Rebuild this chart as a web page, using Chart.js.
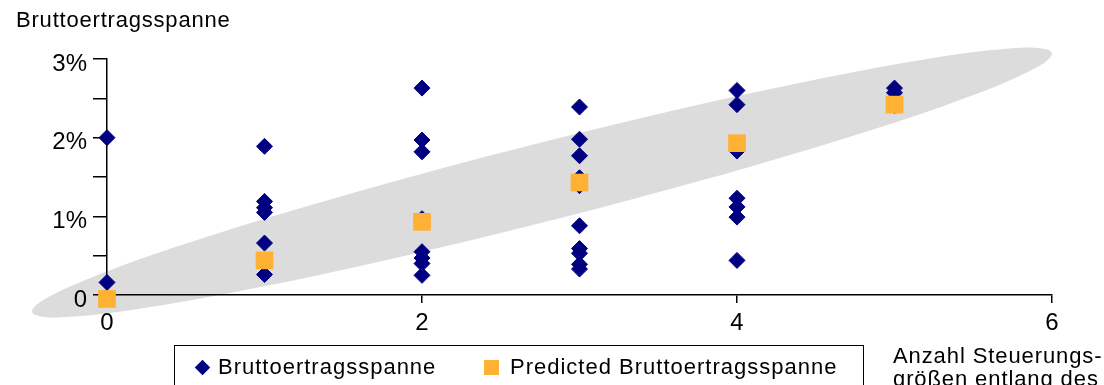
<!DOCTYPE html>
<html>
<head>
<meta charset="utf-8">
<script src="https://cdn.jsdelivr.net/npm/chart.js@4/dist/chart.umd.min.js"></script>
<style>
    body { margin: 0; background: #fff; font-family: "Liberation Sans", Arial, sans-serif; }
    #wrap { position: relative; width: 1104px; height: 385px; overflow: hidden; }
    #wrap canvas { position: absolute; left: 0; top: 0; }
    .txt { position: absolute; font-size: 22px; line-height: 20px; letter-spacing: 1px; color: #000; white-space: nowrap; }
    #legend { position: absolute; left: 174px; top: 345px; width: 690px; height: 60px;
              border: 1.5px solid #000; box-sizing: border-box; }
    .diamond { position: absolute; width: 11px; height: 11px; background: #000080; transform: rotate(45deg); }
    .square { position: absolute; width: 15px; height: 15px; background: #FFB134; }
</style>
</head>
<body>
<div id="wrap">
    <canvas id="scatterChart"></canvas>
    <div class="txt" style="left:16px; top:10px; letter-spacing:0.8px;">Bruttoertragsspanne</div>
    <div id="legend">
        <span class="diamond" style="left:22px; top:16px;"></span>
        <span class="txt" style="left:43px; top:11px;">Bruttoertragsspanne</span>
        <span class="square" style="left:309px; top:14px;"></span>
        <span class="txt" style="left:335px; top:11px;">Predicted Bruttoertragsspanne</span>
    </div>
    <div class="txt" style="left:893px; top:344px; line-height:23px; letter-spacing:0.9px;">Anzahl Steuerungs-<br>größen entlang des</div>
</div>

<script>
// ============================================
// DATA
// ============================================

// number of control variables (x categories)
var steps = [0, 1, 2, 3, 4, 5];

// observed gross margin in % per x value
var observed0 = [2.0, 0.16];
var observed1 = [1.89, 1.19, 1.11, 1.05, 0.66, 0.26];
var observed2 = [2.63, 1.97, 1.82, 0.97, 0.55, 0.47, 0.40, 0.25];
var observed3 = [2.39, 1.98, 1.77, 1.49, 1.39, 0.88, 0.59, 0.53, 0.39, 0.33];
var observed4 = [2.60, 2.42, 1.83, 1.23, 1.12, 0.99, 0.44];
var observed5 = [2.63, 2.57, 2.41];

// predicted gross margin in %
var predicted = [-0.05, 0.44, 0.93, 1.43, 1.93, 2.42];

// y ticks every half percent, labels only on whole percents
var yTicks = [0, 0.5, 1, 1.5, 2, 2.5, 3];
var xTicks = [0, 2, 4, 6];

// ============================================

document.addEventListener('DOMContentLoaded', function () {

    var observedGroups = [observed0, observed1, observed2, observed3, observed4, observed5];

    // flatten observed groups into scatter points
    var observedPoints = [];
    for (var i = 0; i < steps.length; i++) {
        for (var j = 0; j < observedGroups[i].length; j++) {
            observedPoints.push({x: steps[i], y: observedGroups[i][j]});
        }
    }

    var predictedPoints = [];
    for (var k = 0; k < steps.length; k++) {
        predictedPoints.push({x: steps[k], y: predicted[k]});
    }

    // grey confidence ellipse, tips given in data units, half width in px
    var ellipseTipA = {x: -0.476, y: -0.216};
    var ellipseTipB = {x: 6.0, y: 3.076};
    var ellipseHalfWidth = 39;

    // drawn before the scales so axis lines and labels sit on top of it
    var ellipsePlugin = {
        id: 'ellipseBackground',
        beforeDraw: function (chart) {
            var ctx = chart.ctx;
            var sx = chart.scales.x;
            var sy = chart.scales.y;
            var x1 = sx.getPixelForValue(ellipseTipA.x);
            var y1 = sy.getPixelForValue(ellipseTipA.y);
            var x2 = sx.getPixelForValue(ellipseTipB.x);
            var y2 = sy.getPixelForValue(ellipseTipB.y);
            var cx = (x1 + x2) / 2;
            var cy = (y1 + y2) / 2;
            var half = Math.sqrt((x2 - x1) * (x2 - x1) + (y2 - y1) * (y2 - y1)) / 2;
            var angle = Math.atan2(y2 - y1, x2 - x1);
            ctx.save();
            ctx.beginPath();
            ctx.ellipse(cx, cy, half, ellipseHalfWidth, angle, 0, Math.PI * 2);
            ctx.fillStyle = '#DCDCDC';
            ctx.fill();
            ctx.restore();
        }
    };

    var ctx = document.getElementById('scatterChart').getContext('2d');
    new Chart(ctx, {
        type: 'scatter',
        data: {
            datasets: [
                {
                    label: 'Predicted Bruttoertragsspanne',
                    data: predictedPoints,
                    pointStyle: 'rect',
                    pointRadius: 12.5,
                    pointHoverRadius: 12.5,
                    backgroundColor: '#FFB134',
                    borderColor: '#FFB134',
                    borderWidth: 0,
                    order: 0,
                    clip: false
                },
                {
                    label: 'Bruttoertragsspanne',
                    data: observedPoints,
                    pointStyle: 'rectRot',
                    pointRadius: 8,
                    pointHoverRadius: 8,
                    backgroundColor: '#000080',
                    borderColor: '#000080',
                    borderWidth: 1,
                    order: 1,
                    clip: false
                }
            ]
        },
        options: {
            responsive: true,
            maintainAspectRatio: false,
            animation: false,
            events: [],
            layout: {
                padding: {left: 0, top: 59, right: 52, bottom: 50}
            },
            plugins: {
                legend: {display: false},
                tooltip: {enabled: false}
            },
            scales: {
                x: {
                    type: 'linear',
                    min: 0,
                    max: 6,
                    afterFit: function (scale) { scale.height = 40; },
                    afterBuildTicks: function (scale) {
                        scale.ticks = xTicks.map(function (v) { return {value: v}; });
                    },
                    border: {display: true, color: '#000', width: 1.5},
                    grid: {
                        display: true,
                        drawOnChartArea: false,
                        drawTicks: true,
                        tickLength: 8,
                        color: '#000',
                        lineWidth: 1.5
                    },
                    ticks: {
                        color: '#000',
                        padding: 6,
                        autoSkip: false,
                        maxRotation: 0,
                        font: {size: 24, family: '"Liberation Sans", Arial, sans-serif'}
                    }
                },
                y: {
                    type: 'linear',
                    min: 0,
                    max: 3,
                    afterFit: function (scale) { scale.width = 107; },
                    afterBuildTicks: function (scale) {
                        scale.ticks = yTicks.map(function (v) { return {value: v}; });
                    },
                    border: {display: true, color: '#000', width: 1.5},
                    grid: {
                        display: true,
                        drawOnChartArea: false,
                        drawTicks: true,
                        tickLength: 14,
                        color: '#000',
                        lineWidth: 1.5
                    },
                    ticks: {
                        color: '#000',
                        padding: 6,
                        labelOffset: 5,
                        autoSkip: false,
                        font: {size: 24, family: '"Liberation Sans", Arial, sans-serif'},
                        callback: function (value) {
                            if (Math.abs(value - Math.round(value)) > 1e-6) {
                                return '';
                            }
                            if (Math.round(value) === 0) {
                                return '0';
                            }
                            return Math.round(value) + '%';
                        }
                    }
                }
            }
        },
        plugins: [ellipsePlugin]
    });
});
</script>
</body>
</html>
